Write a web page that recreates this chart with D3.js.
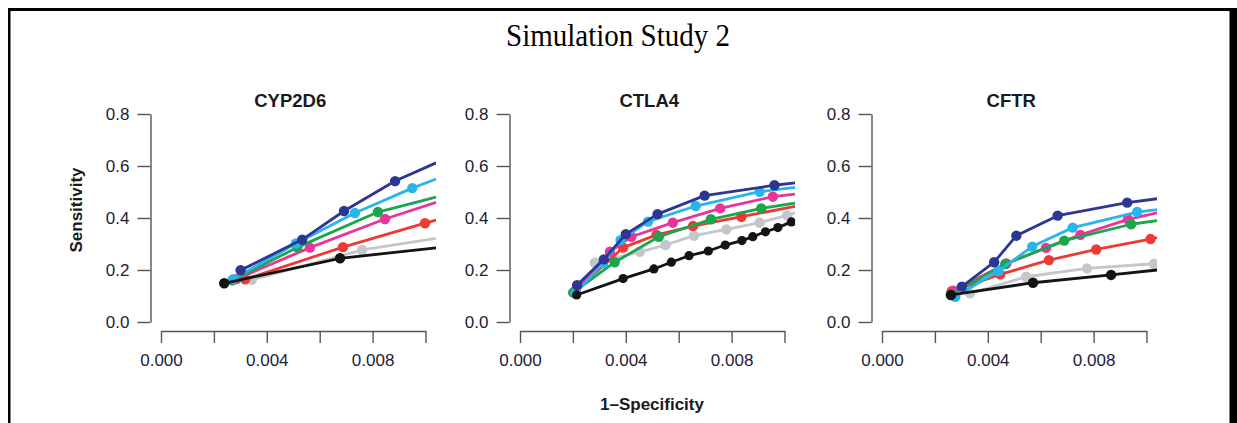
<!DOCTYPE html>
<html><head><meta charset="utf-8">
<script src="https://cdn.jsdelivr.net/npm/d3@7"></script>
<style>body{margin:0;background:#fff}svg{display:block}</style>
</head><body>
<svg id="c" width="1237" height="423"></svg>
<script>
// ---------- data ----------
const mainTitle = "Simulation Study 2";
const panelTitles = ["CYP2D6", "CTLA4", "CFTR"];
const xLabel = "1\u2013Specificity";
const yLabel = "Sensitivity";
const xTicks = [0, 0.002, 0.004, 0.006, 0.008, 0.010];
const xTickLabels = {0: "0.000", 0.004: "0.004", 0.008: "0.008"};
const yTicks = [0, 0.2, 0.4, 0.6, 0.8];
const yTickLabels = ["0.0", "0.2", "0.4", "0.6", "0.8"];
// series order: gray, red, pink, green, cyan, navy, black
const seriesColors = ["#c3c7cc", "#ee3a34", "#e8359a", "#1ba54c", "#28b5ec", "#2c3694", "#141414"];
// last x of every series is the line end at the plot edge (no marker)
const cypX = [
  [0.00343, 0.0076, 0.0104],
  [0.00318, 0.00688, 0.00998, 0.0104],
  [0.00285, 0.00563, 0.00847, 0.0104],
  [0.0027, 0.00515, 0.0082, 0.0104],
  [0.00273, 0.0051, 0.00733, 0.0095, 0.0104],
  [0.00301, 0.00534, 0.00692, 0.00885, 0.0104],
  [0.00239, 0.00677, 0.0104]
];
const cypY = [
  [0.162, 0.277, 0.322],
  [0.164, 0.288, 0.38, 0.392],
  [0.165, 0.286, 0.396, 0.46],
  [0.16, 0.287, 0.423, 0.48],
  [0.165, 0.302, 0.419, 0.515, 0.55],
  [0.199, 0.317, 0.427, 0.542, 0.612],
  [0.149, 0.245, 0.285]
];
const ctlaX = [
  [0.00283, 0.00453, 0.0055, 0.00658, 0.0078, 0.00906, 0.0101, 0.0104],
  [0.0021, 0.0039, 0.00516, 0.00654, 0.00837, 0.0104],
  [0.0021, 0.0034, 0.00421, 0.00578, 0.00757, 0.00956, 0.0104],
  [0.00201, 0.00358, 0.00525, 0.00722, 0.00912, 0.0104],
  [0.0021, 0.00314, 0.0038, 0.00484, 0.00664, 0.00906, 0.0104],
  [0.00216, 0.00317, 0.004, 0.0052, 0.00698, 0.00962, 0.0104],
  [0.00214, 0.0039, 0.00506, 0.00572, 0.00639, 0.00712, 0.00776, 0.00839, 0.0088, 0.00928, 0.00975, 0.01026, 0.0104]
];
const ctlaY = [
  [0.228, 0.27, 0.296, 0.332, 0.356, 0.382, 0.41, 0.42],
  [0.12, 0.286, 0.335, 0.369, 0.405, 0.445],
  [0.12, 0.27, 0.328, 0.382, 0.437, 0.482, 0.492],
  [0.113, 0.23, 0.328, 0.395, 0.437, 0.457],
  [0.11, 0.226, 0.315, 0.386, 0.446, 0.501, 0.518],
  [0.142, 0.241, 0.338, 0.415, 0.486, 0.526, 0.535],
  [0.104, 0.167, 0.204, 0.23, 0.255, 0.273, 0.296, 0.313, 0.328, 0.347, 0.363, 0.385, 0.39]
];
const cftrX = [
  [0.00333, 0.00545, 0.00775, 0.01028, 0.0104],
  [0.00263, 0.00447, 0.00631, 0.0081, 0.01015, 0.0104],
  [0.0027, 0.0047, 0.0062, 0.0075, 0.0093, 0.0104],
  [0.0026, 0.00466, 0.00689, 0.00942, 0.0104],
  [0.00277, 0.0044, 0.00568, 0.00721, 0.00965, 0.0104],
  [0.00302, 0.00424, 0.00508, 0.00664, 0.00927, 0.0104],
  [0.00261, 0.00571, 0.00866, 0.0104]
];
const cftrY = [
  [0.11, 0.174, 0.206, 0.224, 0.225],
  [0.118, 0.183, 0.238, 0.279, 0.319, 0.325],
  [0.12, 0.225, 0.285, 0.335, 0.395, 0.42],
  [0.105, 0.223, 0.313, 0.376, 0.39],
  [0.097, 0.196, 0.29, 0.363, 0.423, 0.432],
  [0.136, 0.23, 0.332, 0.409, 0.459, 0.474],
  [0.104, 0.151, 0.181, 0.2]
];
const panelX = [cypX, ctlaX, cftrX];
const panelY = [cypY, ctlaY, cftrY];

// ---------- layout ----------
const svg = d3.select("#c");
const sans = "'Liberation Sans', Arial, Helvetica, sans-serif";
const panelLeft = [161, 520, 882];
const plotW = 264.5;
const yTop = 114, yBottom = 322;
const xAxisY = 331;
const yAxisOffset = 10.5;

// frame
svg.append("rect").attr("x", 8).attr("y", 8).attr("width", 1222).attr("height", 3).attr("fill", "#000");
svg.append("rect").attr("x", 8).attr("y", 8).attr("width", 2.5).attr("height", 415).attr("fill", "#000");
svg.append("rect").attr("x", 1229.5).attr("y", 8).attr("width", 8).attr("height", 415).attr("fill", "#000");

svg.append("text").attr("x", 618).attr("y", 46).attr("text-anchor", "middle")
  .attr("font-family", "'Liberation Serif', 'Times New Roman', serif").attr("font-size", 32)
  .attr("textLength", 224).attr("lengthAdjust", "spacingAndGlyphs")
  .attr("fill", "#000").text(mainTitle);

panelTitles.forEach((t, p) => {
  const x = d3.scaleLinear().domain([0, 0.01]).range([panelLeft[p], panelLeft[p] + plotW]);
  const y = d3.scaleLinear().domain([0, 0.8]).range([yBottom, yTop]);
  const g = svg.append("g");

  g.append("text").attr("x", (x(0) + x(0.01)) / 2 - 3).attr("y", 107).attr("text-anchor", "middle")
    .attr("font-family", sans).attr("font-weight", "bold").attr("font-size", 18.5).attr("fill", "#1a1a1a").text(t);

  // x axis
  const xa = g.append("g").attr("transform", `translate(0,${xAxisY})`)
    .call(d3.axisBottom(x).tickValues(xTicks).tickSize(12).tickSizeOuter(0)
      .tickFormat(d => xTickLabels[d] || ""));
  xa.select(".domain").attr("stroke", "#555").attr("stroke-width", 1.4);
  xa.selectAll(".tick line").attr("stroke", "#555").attr("stroke-width", 1.4);
  xa.selectAll(".tick text").attr("font-family", sans).attr("font-size", 17).attr("fill", "#1c2236").attr("dy", "1.15em");

  // y axis
  const ya = g.append("g").attr("transform", `translate(${x(0) - yAxisOffset},0)`)
    .call(d3.axisLeft(y).tickValues(yTicks).tickSize(13).tickSizeOuter(0)
      .tickFormat((d, i) => yTickLabels[i]));
  ya.select(".domain").attr("stroke", "#555").attr("stroke-width", 1.4);
  ya.selectAll(".tick line").attr("stroke", "#555").attr("stroke-width", 1.4);
  ya.selectAll(".tick text").attr("font-family", sans).attr("font-size", 17).attr("fill", "#1c2236").attr("dx", "-0.3em");

  // clip
  const cid = "clip" + p;
  svg.append("clipPath").attr("id", cid).append("rect")
    .attr("x", x(-0.0004)).attr("y", y(0.832)).attr("width", x(0.0104) - x(-0.0004)).attr("height", y(-0.032) - y(0.832));
  const plot = g.append("g").attr("clip-path", `url(#${cid})`);

  const line = d3.line().x(d => x(d[0])).y(d => y(d[1]));
  panelX[p].forEach((xs, s) => {
    const pts = xs.map((xv, i) => [xv, panelY[p][s][i]]);
    plot.append("path").attr("d", line(pts)).attr("fill", "none")
      .attr("stroke", seriesColors[s]).attr("stroke-width", 2.8).attr("stroke-linejoin", "round");
    plot.selectAll(null).data(pts.slice(0, -1)).enter().append("circle")
      .attr("cx", d => x(d[0])).attr("cy", d => y(d[1])).attr("r", s === 6 && p === 1 ? 4.6 : 5.2)
      .attr("fill", seriesColors[s]);
  });
});

svg.append("text").attr("x", 78).attr("y", 210).attr("transform", "rotate(-90,78,210)")
  .attr("text-anchor", "middle").attr("dominant-baseline", "middle")
  .attr("font-family", sans).attr("font-weight", "bold").attr("font-size", 17).attr("fill", "#1a1a1a").text(yLabel);
svg.append("text").attr("x", 652).attr("y", 410).attr("text-anchor", "middle")
  .attr("font-family", sans).attr("font-weight", "bold").attr("font-size", 17).attr("fill", "#1a1a1a").text(xLabel);
</script>
</body></html>
